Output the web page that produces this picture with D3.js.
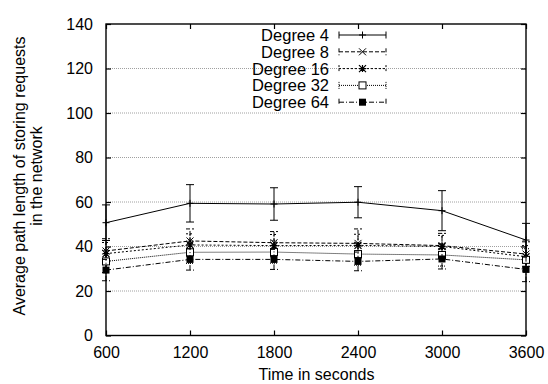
<!DOCTYPE html>
<html><head><meta charset="utf-8">
<script src="https://cdn.jsdelivr.net/npm/d3@7"></script>
<style>body{margin:0;background:#fff}svg{display:block}text{font-family:"Liberation Sans",Arial,sans-serif;fill:#000}</style>
</head><body><svg id="c" width="548" height="384"></svg>
<script>
const times = [600, 1200, 1800, 2400, 3000, 3600];
const seriesNames = ["Degree 4", "Degree 8", "Degree 16", "Degree 32", "Degree 64"];
const deg4  = [50.7, 59.4, 59.1, 59.9, 56.1, 42.9];
const deg4Err = [8.0, 8.4, 7.3, 7.0, 9.0, 7.5];
const deg8  = [38.0, 42.5, 41.7, 41.4, 40.4, 36.6];
const deg8Err = [5.5, 5.4, 5.0, 6.5, 5.5, 5.5];
const deg16 = [36.8, 40.7, 40.4, 40.5, 40.0, 35.4];
const deg16Err = [5.0, 5.0, 5.0, 5.0, 5.0, 5.0];
const deg32 = [33.3, 37.4, 37.5, 36.6, 36.2, 34.0];
const deg32Err = [5.0, 5.0, 5.0, 5.0, 5.0, 5.0];
const deg64 = [29.4, 34.2, 34.2, 33.3, 34.4, 29.7];
const deg64Err = [4.8, 4.8, 4.5, 4.2, 4.5, 5.5];
const yTicks = [0, 20, 40, 60, 80, 100, 120, 140];
const xTicks = [600, 1200, 1800, 2400, 3000, 3600];

const svg = d3.select("#c");
const L = 106, R = 526, T = 24, B = 335.5;
const FS = 16;
const x = d3.scaleLinear().domain([600, 3600]).range([L, R]);
const y = d3.scaleLinear().domain([0, 140]).range([B, T]);

// grid
svg.append("g").selectAll("line").data(yTicks.slice(1, -1)).join("line")
  .attr("x1", L).attr("x2", R).attr("y1", d => y(d)).attr("y2", d => y(d))
  .attr("stroke", "#a0a0a0").attr("stroke-width", 1).attr("stroke-dasharray", "1,1");

// axes via d3
const ax = svg.append("g");
const fmt = d3.format("d");
const yAxisL = d3.axisLeft(y).tickValues(yTicks).tickFormat(fmt).tickSize(-5).tickPadding(13).tickSizeOuter(0);
const yAxisR = d3.axisRight(y).tickValues(yTicks).tickSize(-5).tickFormat("").tickSizeOuter(0);
const xAxisB = d3.axisBottom(x).tickValues(xTicks).tickFormat(fmt).tickSize(-5).tickPadding(11).tickSizeOuter(0);
const xAxisT = d3.axisTop(x).tickValues(xTicks).tickSize(-5).tickFormat("").tickSizeOuter(0);
[[yAxisL, `translate(${L},0)`], [yAxisR, `translate(${R},0)`], [xAxisB, `translate(0,${B})`], [xAxisT, `translate(0,${T})`]]
  .forEach(([a, t]) => {
    const g = ax.append("g").attr("transform", t).call(a);
    g.select(".domain").remove();
    g.selectAll("line").attr("stroke", "#000").attr("stroke-width", 1.2);
    g.selectAll("text").attr("font-family", "Liberation Sans, Arial, sans-serif").attr("fill", "#000").attr("font-size", FS);
  });
svg.append("rect").attr("x", L).attr("y", T).attr("width", R - L).attr("height", B - T)
  .attr("fill", "none").attr("stroke", "#000").attr("stroke-width", 1.4);

// labels
svg.append("text").attr("x", (L + R) / 2 + 0.5).attr("y", 379.5).attr("text-anchor", "middle").attr("font-size", FS).text("Time in seconds");
const yl = svg.append("text").attr("transform", `translate(25,176) rotate(-90)`).attr("text-anchor", "middle").attr("font-size", FS);
yl.append("tspan").attr("x", 0).attr("dy", 0).text("Average path length of storing requests");
yl.append("tspan").attr("x", 0).attr("dy", 17).text("in the network");

const dashes = [null, "4,2", "2,2", "1,1", "5,2,1,2"];
const vals = [deg4, deg8, deg16, deg32, deg64];
const errs = [deg4Err, deg8Err, deg16Err, deg32Err, deg64Err];
const line = d3.line().x(d => x(d[0])).y(d => y(d[1]));

function marker(g, k, cx, cy) {
  const s = 3.5;
  if (k === 0) {
    g.append("path").attr("d", `M${cx - s},${cy}H${cx + s}M${cx},${cy - s}V${cy + s}`).attr("stroke", "#000").attr("stroke-width", 1);
  } else if (k === 1) {
    g.append("path").attr("d", `M${cx - s},${cy - s}L${cx + s},${cy + s}M${cx - s},${cy + s}L${cx + s},${cy - s}`).attr("stroke", "#000").attr("stroke-width", 1);
  } else if (k === 2) {
    g.append("path").attr("d", `M${cx - s},${cy - s}L${cx + s},${cy + s}M${cx - s},${cy + s}L${cx + s},${cy - s}M${cx - s},${cy}H${cx + s}M${cx},${cy - s}V${cy + s}`).attr("stroke", "#000").attr("stroke-width", 1.2);
  } else if (k === 3) {
    g.append("rect").attr("x", cx - 3.5).attr("y", cy - 3.5).attr("width", 7).attr("height", 7).attr("fill", "#fff").attr("stroke", "#000").attr("stroke-width", 1);
  } else {
    g.append("rect").attr("x", cx - 3.5).attr("y", cy - 3.5).attr("width", 7).attr("height", 7).attr("fill", "#000");
  }
}

vals.forEach((v, k) => {
  const g = svg.append("g");
  const pts = times.map((t, i) => [t, v[i]]);
  g.append("path").attr("d", line(pts)).attr("fill", "none").attr("stroke", "#000").attr("stroke-width", 1)
    .attr("stroke-dasharray", dashes[k]);
  times.forEach((t, i) => {
    const cx = x(t), lo = y(v[i] - errs[k][i]), hi = y(v[i] + errs[k][i]);
    g.append("path").attr("d", `M${cx},${lo}V${hi}M${cx - 4},${lo}H${cx + 4}M${cx - 4},${hi}H${cx + 4}`)
      .attr("stroke", "#000").attr("stroke-width", 1).attr("fill", "none").attr("stroke-dasharray", dashes[k]);
    marker(g, k, cx, y(v[i]));
  });
});

// legend
const lg = svg.append("g");
seriesNames.forEach((n, k) => {
  const ly = 35 + k * 16.8;
  lg.append("text").attr("x", 329).attr("y", ly + 6).attr("text-anchor", "end").attr("font-size", 16.5).text(n);
  lg.append("path").attr("d", `M339,${ly}H386M339,${ly - 3.5}V${ly + 3.5}M386,${ly - 3.5}V${ly + 3.5}`)
    .attr("stroke", "#000").attr("stroke-width", 1).attr("stroke-dasharray", dashes[k]).attr("fill", "none");
  marker(lg, k, 362.5, ly);
});
</script></body></html>
